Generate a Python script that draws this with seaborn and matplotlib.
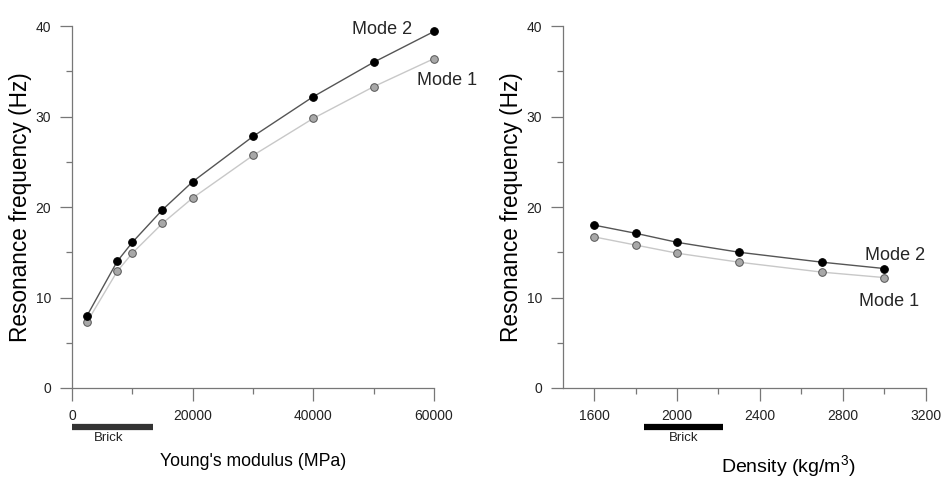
import numpy as np
import matplotlib
matplotlib.use("Agg")
import matplotlib.pyplot as plt
import seaborn as sns

# Data
young_mpa = [2500, 7500, 10000, 15000, 20000, 30000, 40000, 50000, 60000]
young_mode1 = [7.3, 12.9, 14.9, 18.2, 21.0, 25.7, 29.8, 33.3, 36.4]
young_mode2 = [8.0, 14.0, 16.1, 19.7, 22.8, 27.8, 32.2, 36.0, 39.4]

density = [1600, 1800, 2000, 2300, 2700, 3000]
density_mode1 = [16.7, 15.8, 14.9, 13.9, 12.8, 12.2]
density_mode2 = [18.0, 17.1, 16.1, 15.0, 13.9, 13.2]

brick_young = (0, 13400)
brick_density = (1840, 2220)

sns.set_theme(style="white")
plt.rcParams['font.family'] = ['Liberation Sans', 'DejaVu Sans']

fig = plt.figure(figsize=(9.5, 4.8), dpi=100)
ax1 = fig.add_axes([0.0758, 0.1917, 0.381, 0.754])
ax2 = fig.add_axes([0.5926, 0.1917, 0.382, 0.754])

spine_col = '#777777'
text_col = '#222222'


def draw_modes(ax, x, m1, m2):
    sns.lineplot(x=x, y=m1, ax=ax, color='#c8c8c8', linewidth=1.0,
                 marker='o', markersize=5.5, markerfacecolor='#a8a8a8',
                 markeredgecolor='#555555', markeredgewidth=0.7, zorder=2,
                 clip_on=False)
    sns.lineplot(x=x, y=m2, ax=ax, color='#555555', linewidth=1.0,
                 marker='o', markersize=5.5, markerfacecolor='black',
                 markeredgecolor='black', zorder=3, clip_on=False)


def style_axes(ax):
    ax.set_ylim(0, 40)
    ax.set_yticks([0, 10, 20, 30, 40])
    ax.set_yticks([5, 15, 25, 35], minor=True)
    for s in ['top', 'right']:
        ax.spines[s].set_visible(False)
    for s in ['left', 'bottom']:
        ax.spines[s].set_color(spine_col)
        ax.spines[s].set_linewidth(0.9)
    ax.tick_params(which='major', direction='out', length=9, width=0.9,
                   color=spine_col, labelsize=10, labelcolor=text_col,
                   left=True, bottom=True, pad=6)
    ax.tick_params(which='minor', direction='out', length=4.5, width=0.9,
                   color=spine_col, left=True, bottom=True)
    ax.set_ylabel('Resonance frequency (Hz)', fontsize=16.3, color='black')
    ax.yaxis.set_label_coords(-0.11, 0.5)


# Left panel: Young's modulus
draw_modes(ax1, young_mpa, young_mode1, young_mode2)
style_axes(ax1)
ax1.set_xlim(0, 60000)
ax1.set_xticks([0, 20000, 40000, 60000])
ax1.set_xticks([10000, 30000, 50000], minor=True)
ax1.set_xlabel("Young's modulus (MPa)", fontsize=12.7, color='black')
ax1.xaxis.set_label_coords(0.5, -0.18)
ax1.text(51400, 39.6, 'Mode 2', fontsize=13, ha='center', va='center')
ax1.text(62150, 34.0, 'Mode 1', fontsize=13, ha='center', va='center',
         clip_on=False)
ax1.plot(brick_young, [-4.3, -4.3], color='#333333', linewidth=4.5,
         solid_capstyle='butt', clip_on=False)
ax1.text(np.mean(brick_young) - 700, -4.9, 'Brick', fontsize=9.5,
         ha='center', va='top', color=text_col)

# Right panel: density
draw_modes(ax2, density, density_mode1, density_mode2)
style_axes(ax2)
ax2.set_xlim(1450, 3200)
ax2.set_xticks([1600, 2000, 2400, 2800, 3200])
ax2.set_xticks([1800, 2200, 2600, 3000], minor=True)
ax2.set_xlabel('Density (kg/m$\\mathregular{^3}$)', fontsize=14, color='black')
ax2.xaxis.set_label_coords(0.62, -0.18)
ax2.text(3051, 14.6, 'Mode 2', fontsize=13, ha='center', va='center')
ax2.text(3022, 9.6, 'Mode 1', fontsize=13, ha='center', va='center')
ax2.plot(brick_density, [-4.3, -4.3], color='black', linewidth=4.5,
         solid_capstyle='butt', clip_on=False)
ax2.text(np.mean(brick_density), -4.9, 'Brick', fontsize=9.5,
         ha='center', va='top', color=text_col)

fig.savefig('out.png', dpi=100)
